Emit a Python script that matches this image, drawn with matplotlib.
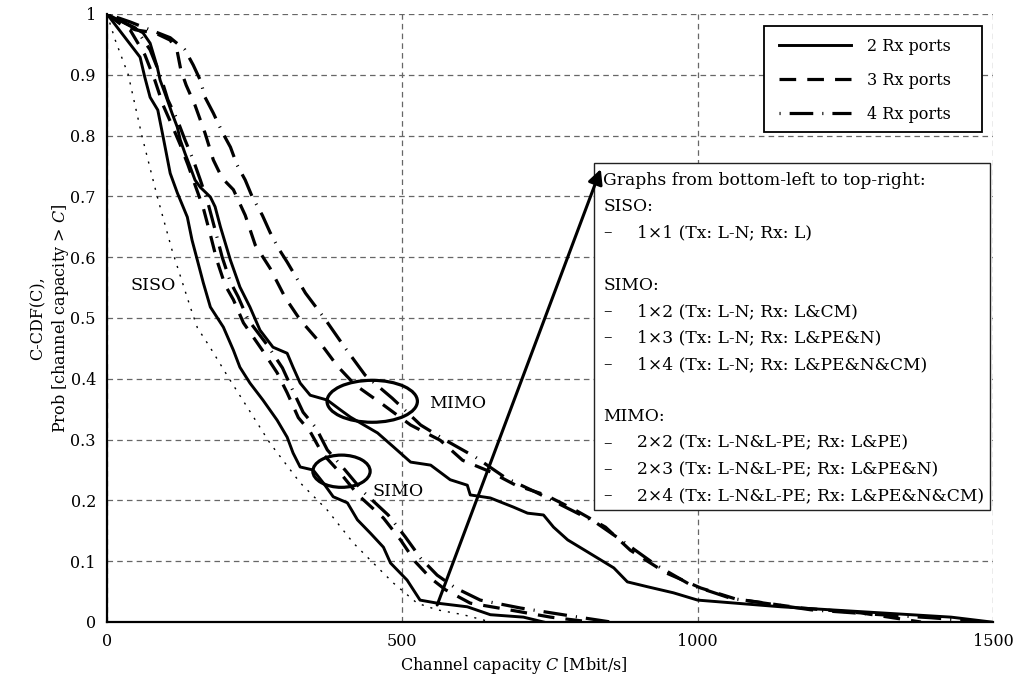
import matplotlib
matplotlib.use("Agg")
import matplotlib.pyplot as plt
from matplotlib.patches import Ellipse, Rectangle

plt.rcParams['font.family'] = ['DejaVu Serif']
plt.rcParams['mathtext.fontset'] = 'custom'
plt.rcParams['mathtext.rm'] = 'DejaVu Serif'
plt.rcParams['mathtext.it'] = 'DejaVu Serif:italic'
plt.rcParams['lines.scale_dashes'] = False

# ---- complementary CDFs of channel capacity (Mbit/s vs probability) ----
siso_1x1_c = [0, 14, 36, 59, 85, 110, 141, 153, 175, 205, 237, 276, 327, 373, 417, 458, 485, 525, 559, 603, 650]
siso_1x1_p = [1.0, 0.957, 0.90, 0.80, 0.70, 0.612, 0.518, 0.484, 0.451, 0.403, 0.354, 0.294, 0.229, 0.184, 0.130,
              0.090, 0.064, 0.031, 0.020, 0.012, 0.0]

simo_1x2_c = [0, 30, 56, 64, 73, 86, 95, 107, 119, 136, 144, 153, 163, 175, 197, 214, 225, 242, 264, 288, 305,
              315, 327, 349, 366, 383, 407, 424, 446, 468, 480, 508, 530, 559, 610, 649, 705, 739]
simo_1x2_p = [1.0, 0.962, 0.929, 0.896, 0.863, 0.842, 0.798, 0.738, 0.706, 0.666, 0.628, 0.595, 0.558, 0.518,
              0.485, 0.447, 0.419, 0.393, 0.365, 0.332, 0.304, 0.278, 0.255, 0.250, 0.229, 0.206, 0.196, 0.168,
              0.146, 0.123, 0.097, 0.069, 0.036, 0.031, 0.025, 0.012, 0.008, 0.0]

simo_1x3_c = [0, 39, 64, 81, 95, 110, 124, 137, 149, 163, 175, 186, 200, 214, 231, 263, 288, 305, 324, 344, 364,
              395, 425, 468, 497, 522, 548, 573, 615, 675, 751, 819]
simo_1x3_p = [1.0, 0.974, 0.933, 0.891, 0.850, 0.817, 0.785, 0.752, 0.719, 0.681, 0.637, 0.595, 0.554, 0.530,
              0.492, 0.447, 0.410, 0.377, 0.336, 0.313, 0.278, 0.245, 0.209, 0.171, 0.135, 0.099, 0.072, 0.053,
              0.031, 0.021, 0.008, 0.0]

simo_1x4_c = [0, 48, 73, 90, 103, 119, 132, 146, 158, 171, 183, 195, 209, 222, 239, 271, 297, 314, 332, 354, 373,
              403, 434, 476, 505, 531, 559, 590, 632, 700, 785, 853]
simo_1x4_p = [1.0, 0.977, 0.941, 0.900, 0.859, 0.826, 0.793, 0.760, 0.727, 0.689, 0.645, 0.600, 0.559, 0.535,
              0.497, 0.456, 0.418, 0.382, 0.345, 0.319, 0.283, 0.250, 0.214, 0.176, 0.140, 0.105, 0.077, 0.056,
              0.036, 0.023, 0.010, 0.0]

mimo_2x2_c = [0, 61, 73, 85, 90, 98, 110, 119, 124, 132, 141, 149, 158, 175, 183, 192, 209, 225, 242, 259, 281,
              305, 315, 327, 344, 373, 395, 412, 458, 485, 514, 548, 581, 610, 615, 649, 688, 712, 739, 756, 780,
              814, 836, 858, 881, 915, 959, 1000, 1141, 1310, 1429, 1497]
mimo_2x2_p = [1.0, 0.969, 0.952, 0.913, 0.891, 0.870, 0.837, 0.814, 0.793, 0.771, 0.748, 0.727, 0.715, 0.699,
              0.683, 0.650, 0.595, 0.551, 0.518, 0.480, 0.452, 0.442, 0.419, 0.393, 0.373, 0.365, 0.349, 0.337,
              0.311, 0.288, 0.263, 0.258, 0.234, 0.225, 0.209, 0.204, 0.189, 0.179, 0.176, 0.156, 0.135, 0.115,
              0.102, 0.089, 0.066, 0.058, 0.048, 0.036, 0.025, 0.015, 0.008, 0.0]

mimo_2x3_c = [0, 22, 48, 81, 107, 119, 125, 134, 149, 166, 180, 195, 214, 234, 251, 276, 302, 327, 361, 390, 420,
              468, 514, 564, 602, 649, 692, 742, 793, 844, 886, 946, 1005, 1064, 1175, 1276, 1378]
mimo_2x3_p = [1.0, 0.984, 0.974, 0.969, 0.957, 0.938, 0.908, 0.883, 0.850, 0.804, 0.760, 0.730, 0.711, 0.669,
              0.620, 0.582, 0.533, 0.497, 0.459, 0.421, 0.390, 0.357, 0.324, 0.299, 0.266, 0.247, 0.225, 0.209,
              0.184, 0.156, 0.118, 0.081, 0.056, 0.038, 0.023, 0.015, 0.0]

mimo_2x4_c = [0, 39, 73, 107, 132, 146, 158, 166, 180, 195, 209, 220, 234, 246, 263, 276, 290, 305, 336, 370, 403,
              437, 483, 531, 573, 624, 675, 725, 776, 827, 870, 929, 988, 1056, 1192, 1293, 1395, 1488]
mimo_2x4_p = [1.0, 0.987, 0.974, 0.961, 0.941, 0.916, 0.891, 0.863, 0.837, 0.806, 0.781, 0.752, 0.727, 0.699,
              0.669, 0.641, 0.615, 0.592, 0.541, 0.497, 0.451, 0.406, 0.368, 0.324, 0.299, 0.271, 0.237, 0.214,
              0.189, 0.164, 0.135, 0.094, 0.061, 0.039, 0.020, 0.013, 0.007, 0.0]

x_ticks = [0, 500, 1000, 1500]
y_ticks = [0, 0.1, 0.2, 0.3, 0.4, 0.5, 0.6, 0.7, 0.8, 0.9, 1.0]
y_tick_labels = ['0', '0.1', '0.2', '0.3', '0.4', '0.5', '0.6', '0.7', '0.8', '0.9', '1']

legend_labels = ['2 Rx ports', '3 Rx ports', '4 Rx ports']

info_lines = [
    ('', 'Graphs from bottom-left to top-right:'),
    ('', 'SISO:'),
    ('\u2013', '1\u00d71 (Tx: L-N; Rx: L)'),
    ('', ''),
    ('', 'SIMO:'),
    ('\u2013', '1\u00d72 (Tx: L-N; Rx: L&CM)'),
    ('\u2013', '1\u00d73 (Tx: L-N; Rx: L&PE&N)'),
    ('\u2013', '1\u00d74 (Tx: L-N; Rx: L&PE&N&CM)'),
    ('', ''),
    ('', 'MIMO:'),
    ('\u2013', '2\u00d72 (Tx: L-N&L-PE; Rx: L&PE)'),
    ('\u2013', '2\u00d73 (Tx: L-N&L-PE; Rx: L&PE&N)'),
    ('\u2013', '2\u00d74 (Tx: L-N&L-PE; Rx: L&PE&N&CM)'),
]

FS = 11.5
FS_BOX = 12.3
FS_TAG = 12.5

# ---- line styles ----
solid = dict(color='black', lw=2.1, linestyle='-', solid_joinstyle='round')
dashed = dict(color='black', lw=2.3, linestyle=(0, (12, 8)), dash_capstyle='butt')
dashdot = dict(color='black', lw=2.3, linestyle=(0, (0.8, 6.5, 17, 6.5)), dash_capstyle='butt')
dotted = dict(color='black', lw=1.0, linestyle=(0, (1.5, 5.0)))

fig = plt.figure(figsize=(10.24, 6.85), dpi=100)
ax = fig.add_axes([107 / 1024, 1 - 622 / 685, 886 / 1024, 608 / 685])

ax.plot(siso_1x1_c, siso_1x1_p, **dotted)
ax.plot(simo_1x2_c, simo_1x2_p, label=legend_labels[0], **solid)
ax.plot(simo_1x3_c, simo_1x3_p, label=legend_labels[1], **dashed)
ax.plot(simo_1x4_c, simo_1x4_p, label=legend_labels[2], **dashdot)
ax.plot(mimo_2x2_c, mimo_2x2_p, **solid)
ax.plot(mimo_2x3_c, mimo_2x3_p, **dashed)
ax.plot(mimo_2x4_c, mimo_2x4_p, **dashdot)

ax.set_xlim(0, 1500)
ax.set_ylim(0, 1)
ax.set_xticks(x_ticks)
ax.set_yticks(y_ticks)
ax.set_yticklabels(y_tick_labels)
ax.tick_params(direction='in', length=0, labelsize=FS, pad=8)
ax.grid(True, color='#666666', linestyle=(0, (4, 3)), linewidth=0.9)
for side in ('top', 'right'):
    ax.spines[side].set_visible(False)
for side in ('left', 'bottom'):
    ax.spines[side].set_linewidth(1.6)
    ax.spines[side].set_zorder(5)

ax.set_xlabel('Channel capacity $\\mathit{C}$ [Mbit/s]', fontsize=FS)
ax.xaxis.set_label_coords(0.459, -0.055)
ax.set_ylabel('C-CDF(C),\nProb [channel capacity > $\\mathit{C}$]', fontsize=FS)
ax.yaxis.set_label_coords(-0.041, 0.5)

# group labels and the highlighting ellipses
ax.text(78, 0.554, 'SISO', fontsize=FS_TAG, ha='center', va='center')
ax.text(493, 0.215, 'SIMO', fontsize=FS_TAG, ha='center', va='center')
ax.text(593, 0.360, 'MIMO', fontsize=FS_TAG, ha='center', va='center')
ax.add_patch(Ellipse((449, 0.363), 153, 0.069, fill=False, lw=2.3, ec='black', zorder=4))
ax.add_patch(Ellipse((397, 0.248), 97, 0.053, fill=False, lw=2.3, ec='black', zorder=4))

# description box
box = Rectangle((0.5497, 0.184), 0.4469, 0.571, transform=ax.transAxes, facecolor='white',
                edgecolor='#222222', lw=1.0, zorder=6)
ax.add_patch(box)
base_y = 0.7188
pitch = 0.0432
for i, (dash, text) in enumerate(info_lines):
    y = base_y - i * pitch
    if dash:
        ax.text(0.560, y, dash, transform=ax.transAxes, fontsize=FS_BOX, va='baseline', ha='left', zorder=7)
        ax.text(0.598, y, text, transform=ax.transAxes, fontsize=FS_BOX, va='baseline', ha='left', zorder=7)
    else:
        ax.text(0.560, y, text, transform=ax.transAxes, fontsize=FS_BOX, va='baseline', ha='left', zorder=7)

ax.annotate('', xy=(836, 0.745), xytext=(559, 0.028),
            arrowprops=dict(arrowstyle='-|>', lw=2.2, color='black', mutation_scale=22,
                            shrinkA=0, shrinkB=0), zorder=8)

# legend: entries without their own frame, drawn over a fixed white box
leg_box = Rectangle(((764 - 107) / 886, (622 - 132) / 608), (982 - 764) / 886, (132 - 26) / 608,
                    transform=ax.transAxes, facecolor='white', edgecolor='black', lw=1.3, zorder=8)
ax.add_patch(leg_box)
leg = ax.legend(loc='upper left', bbox_to_anchor=((767 - 107) / 886, (622 - 26) / 608), borderaxespad=0,
                frameon=False, fontsize=FS,
                handlelength=4.5, handletextpad=1.0, labelspacing=1.05, borderpad=0.75)
leg.set_zorder(9)

fig.savefig('out.png', dpi=100)
